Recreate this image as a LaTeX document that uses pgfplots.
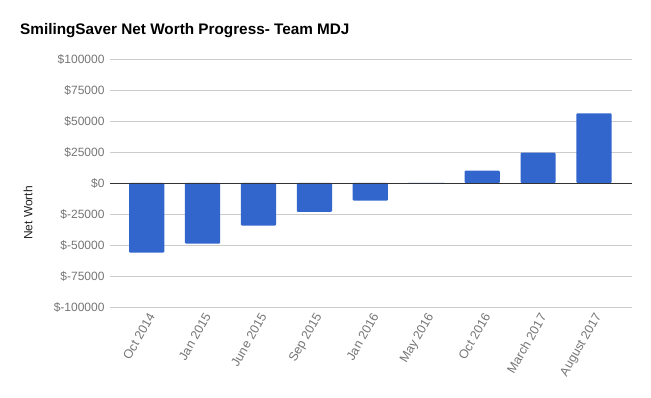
\documentclass[border=0pt]{standalone}
\usepackage{fontspec}
\setmainfont{Liberation Sans}
\usepackage{pgfplots}
\pgfplotsset{compat=1.18}
\definecolor{barblue}{HTML}{3366CC}
\definecolor{gridc}{HTML}{CCCCCC}
\definecolor{ticktext}{HTML}{757575}
\definecolor{zeroc}{HTML}{333333}
\definecolor{labtext}{HTML}{222222}
\begin{document}
\begin{tikzpicture}
\path (0pt,0pt) rectangle (651pt,398pt);
\node[anchor=base west, font=\bfseries\fontsize{15.3}{18}\selectfont, inner sep=0pt] at (20pt,363.7pt) {SmilingSaver Net Worth Progress- Team MDJ};
\node[rotate=90, font=\fontsize{12}{14}\selectfont, text=labtext, inner sep=0pt] at (28pt,185pt) {Net Worth};
\begin{axis}[
  at={(110pt,91pt)}, anchor=south west,
  scale only axis, width=521.5pt, height=248pt,
  xmin=-0.656, xmax=8.67, ymin=-100000, ymax=100000,
  axis line style={draw=none}, tick style={draw=none},
  ymajorgrids, grid style={color=gridc, line width=0.7pt},
  scaled y ticks=false,
  ytick={-100000,-75000,-50000,-25000,0,25000,50000,75000,100000},
  yticklabels={\$-100000,\$-75000,\$-50000,\$-25000,\$0,\$25000,\$50000,\$75000,\$100000},
  yticklabel style={font=\fontsize{12}{14}\selectfont, text=ticktext, anchor=east, xshift=-2pt},
  xtick={0,...,8},
  xticklabels={Oct 2014,Jan 2015,June 2015,Sep 2015,Jan 2016,May 2016,Oct 2016,March 2017,August 2017},
  xticklabel style={font=\fontsize{12.5}{14}\selectfont, text=ticktext, rotate=60, anchor=east, xshift=3pt, yshift=-6pt},
  ybar, bar width=0.63,
  clip=false,
]
\addplot[fill=barblue, draw=none, rounded corners=1pt] coordinates {
(0,-56200) (1,-48900) (2,-34300) (3,-23300) (4,-14300) (5,0) (6,10000) (7,24400) (8,56200)};
\draw[zeroc, line width=0.8pt] (axis cs:-0.656,0) -- (axis cs:8.67,0);
\end{axis}
\end{tikzpicture}
\end{document}
